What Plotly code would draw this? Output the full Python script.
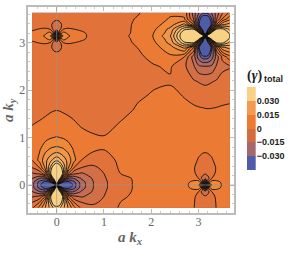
import plotly.graph_objects as go

kx = [-0.52,-0.36,-0.24,-0.14,-0.06,0,0.06,0.14,0.24,0.36,0.52,0.75,1.0,1.35,1.7,2.05,2.4,2.7,2.9,3.0,3.08,3.14,3.2,3.28,3.38,3.5,3.66]
ky = [-0.48,-0.36,-0.24,-0.14,-0.06,0,0.06,0.14,0.24,0.36,0.52,0.75,1.0,1.3,1.6,1.9,2.2,2.5,2.7,2.9,3.0,3.08,3.14,3.2,3.28,3.38,3.5,3.63]

gamma = [
[-.001,.007,.015,.021,.026,.027,.026,.021,.015,.007,-.001,-.0035,-.0025,.0005,.0012,.0012,.0012,.0012,.0001,-.001,-.002,-.0025,-.002,-.001,.0001,.0012,.0015],
[-.0052,0,.011,.025,.036,.04,.036,.025,.011,0,-.0052,-.0062,-.004,0,.0012,.0012,.0012,.0012,.0002,-.001,-.002,-.0025,-.002,-.001,.0002,.0012,.0015],
[-.0107,-.009,0,.0245,.052,.062,.052,.0245,0,-.009,-.0107,-.0083,-.005,-.0008,.001,.0012,.0012,.0015,.0005,-.001,-.003,-.0045,-.003,-.001,.0005,.0012,.0015],
[-.0146,-.02,-.02,0,.034,.06,.034,0,-.02,-.02,-.0146,-.0099,-.0055,-.0015,.0008,.0012,.0012,.0018,.002,0,-.007,-.009,-.007,0,.002,.002,.0015],
[-.0175,-.027,-.032,-.03,0,.05,0,-.03,-.032,-.027,-.0175,-.0105,-.0058,-.002,.0008,.0012,.0012,.0025,.007,.008,0,-.028,0,.008,.007,.004,.002],
[-.018,-.028,-.038,-.045,-.05,0,-.05,-.045,-.038,-.028,-.018,-.0105,-.0058,-.002,.0008,.0012,.0012,.003,.008,.01,.028,0,.028,.01,.008,.0045,.002],
[-.0175,-.027,-.032,-.03,0,.05,0,-.03,-.032,-.027,-.0175,-.0105,-.0058,-.002,.0008,.0012,.0012,.0025,.007,.008,0,-.028,0,.008,.007,.004,.002],
[-.0146,-.02,-.02,0,.034,.06,.034,0,-.02,-.02,-.0146,-.0099,-.0055,-.0015,.0008,.0012,.0012,.0018,.002,0,-.007,-.009,-.007,0,.002,.002,.0015],
[-.0107,-.009,0,.0245,.052,.062,.052,.0245,0,-.009,-.0107,-.0083,-.005,0,.001,.0012,.0012,.0015,.0005,-.001,-.003,-.0045,-.003,-.001,.0005,.0012,.0015],
[-.0052,0,.011,.025,.036,.04,.036,.025,.011,0,-.0052,-.0062,-.004,.0008,.0015,.0015,.0015,.0015,.0002,-.001,-.002,-.0025,-.002,-.001,.0002,.0012,.0015],
[0,.0066,.0134,.018,.022,.024,.022,.018,.0134,.0066,0,-.0028,-.0025,.0012,.0015,.0015,.0015,.0015,.0008,-.0003,-.001,-.0012,-.001,-.0003,.0008,.0012,.0015],
[.002,.0045,.0085,.0105,.0112,.0115,.0112,.0105,.0085,.0045,.002,.001,.0001,.0015,.0015,.0015,.0015,.001,.001,.0008,.0006,.0005,.0006,.0008,.001,.001,.0012],
[.0012,.0018,.0032,.0045,.005,.0052,.005,.0045,.0032,.0018,.0012,.0008,.0003,.0012,.0015,.0015,.0015,.0012,.0012,.0012,.0012,.0012,.0012,.0012,.0012,.0012,.0012],
[-.0002,.0003,.0009,.0016,.0018,.0018,.0018,.0016,.0012,.0004,-.0005,-.0018,-.002,.0003,.0012,.0012,.0012,.0012,.001,.001,.001,.001,.001,.001,.001,.001,.001],
[-.0015,-.0012,-.001,-.0006,-.0003,-.0002,-.0003,-.0006,-.001,-.0012,-.0015,-.002,-.0022,-.002,.0005,.001,.0012,.001,.0005,.0003,.0002,.0001,.00005,.0001,.0002,.0004,.0006],
[-.002,-.002,-.002,-.002,-.002,-.002,-.002,-.002,-.002,-.002,-.002,-.002,-.002,-.002,-.0008,.0004,.001,-.0003,-.0012,-.0016,-.0018,-.002,-.002,-.0018,-.0015,-.0012,-.001],
[-.002,-.002,-.002,-.002,-.002,-.002,-.002,-.002,-.002,-.002,-.002,-.002,-.002,-.002,-.0015,-.0008,-.0005,-.002,-.0048,-.0055,-.0062,-.0065,-.0062,-.0055,-.0048,-.003,-.0022],
[-.002,-.002,-.002,-.002,-.002,-.002,-.002,-.002,-.002,-.002,-.002,-.002,-.002,-.0018,-.0015,-.0003,.0006,-.004,-.0095,-.014,-.0148,-.015,-.0148,-.014,-.0095,-.0065,-.0055],
[-.002,-.002,-.0022,-.0025,-.003,-.0033,-.003,-.0025,-.0022,-.002,-.002,-.002,-.002,-.0015,-.0008,.001,.004,0,-.0128,-.0226,-.027,-.028,-.027,-.0226,-.0128,-.0041,.0035],
[-.002,-.0015,-.001,-.004,-.0062,-.0066,-.0062,-.004,-.001,-.0015,-.002,-.002,-.002,-.001,0,.003,.008,.0164,0,-.0245,-.052,-.062,-.052,-.0245,0,.014,.017],
[-.0005,.0002,.0003,0,-.007,-.0085,-.007,0,.0003,.0001,-.0008,-.002,-.002,-.0012,.0005,.004,.0115,.029,.031,0,-.03,-.06,-.03,0,.031,.032,.0237],
[.0008,.002,.004,.007,0,-.028,0,.007,.004,.002,.001,-.0015,-.002,-.0012,.0008,.005,.0125,.036,.05,.036,0,-.05,0,.036,.05,.046,.028],
[.001,.003,.006,.009,.028,0,.028,.009,.006,.003,.0015,-.0015,-.002,-.001,.001,.0052,.0145,.037,.06,.06,.05,0,.05,.06,.06,.05,.03],
[.0008,.002,.004,.007,0,-.028,0,.007,.004,.002,.001,-.0015,-.002,-.0012,.0008,.005,.0125,.036,.05,.036,0,-.05,0,.036,.05,.046,.028],
[-.0005,.0002,.0003,0,-.007,-.0085,-.007,0,.0003,.0001,-.0008,-.002,-.002,-.0012,.0007,.004,.0115,.029,.031,0,-.03,-.06,-.03,0,.031,.032,.0237],
[-.002,-.0015,-.001,-.004,-.0062,-.0066,-.0062,-.004,-.001,-.0015,-.002,-.002,-.002,-.001,.0005,.003,.0075,.0164,0,-.0245,-.052,-.062,-.052,-.0245,0,.014,.017],
[-.0022,-.002,-.002,-.0025,-.004,-.0045,-.004,-.0025,-.002,-.002,-.002,-.002,-.002,-.001,.0002,.002,.0055,.0053,-.011,-.025,-.036,-.037,-.036,-.025,-.011,0,.0084],
[-.002,-.002,-.002,-.002,-.002,-.002,-.002,-.002,-.002,-.002,-.002,-.002,-.002,-.001,-.0003,.0012,.004,.004,-.013,-.0197,-.0236,-.024,-.0236,-.0197,-.013,-.0058,.001],
]

band_colors = ["#4F5CA8","#7F6288","#A4686E","#BC6C5A","#CC6E4C","#DA7040","#E87634","#EE7F33","#F0903F","#F29C50","#F3AC62","#F5BE72","#F7D184"]
legend_colors = ["#4F5CA8","#A5686E","#D56C40","#EC7A30","#F29A50","#F7D184"]
legend_centers = [-0.0375,-0.0225,-0.0075,0.0075,0.0225,0.0375]
legend_ticks = [-0.03,-0.015,0,0.015,0.03]
legend_labels = ["<b>\u22120.030</b>","<b>\u22120.015</b>","<b>0</b>","<b>0.015</b>","<b>0.030</b>"]

W, H = 291, 253
n = len(band_colors) - 1
scale = [[i / n, c] for i, c in enumerate(band_colors)]

fig = go.Figure()
fig.add_trace(go.Contour(
    x=kx, y=ky, z=gamma, zmin=-0.03, zmax=0.03, zauto=False, colorscale=scale, showscale=False,
    autocontour=False,
    contours=dict(start=-0.03, end=0.03, size=0.005, coloring="fill"),
    line=dict(color="#111111", width=0.9, smoothing=0.9),
    hoverinfo="skip",
))
lscale = []
for i, c in enumerate(legend_colors):
    lscale += [[i / 6, c], [(i + 1) / 6, c]]
fig.add_trace(go.Heatmap(
    x=[0], y=legend_centers, z=[[v] for v in legend_centers], xaxis="x2", yaxis="y2",
    colorscale=lscale, zmin=-0.045, zmax=0.045, showscale=False, hoverinfo="skip",
))

axis_font = dict(family="Liberation Serif", size=12, color="#666666")
common = dict(showgrid=False, zeroline=False, showline=True, linecolor="#BBBBBB", linewidth=1.5,
              mirror="ticks", ticks="inside", ticklen=4, tickwidth=1, tickcolor="#BBBBBB",
              tickvals=[0, 1, 2, 3], tickfont=axis_font, layer="above traces",
              minor=dict(ticks="inside", ticklen=2, tickcolor="#CCCCCC", dtick=0.2, showgrid=False))
fig.update_layout(
    width=W, height=H, autosize=False, margin=dict(l=0, r=0, t=0, b=0),
    paper_bgcolor="white", plot_bgcolor="white", showlegend=False,
    xaxis=dict(range=[-0.6, 3.75], domain=[28.3 / W, 234 / W], ticklabelstandoff=-3, **common),
    yaxis=dict(range=[-0.59, 3.75], domain=[40 / H, 246 / H], ticklabelstandoff=-1, **common),
    xaxis2=dict(domain=[247 / W, 255.7 / W], anchor="y2", visible=False),
    yaxis2=dict(domain=[83 / H, 166 / H], anchor="x2", side="right", range=[-0.045, 0.045],
                tickvals=legend_ticks, ticktext=legend_labels, showgrid=False, zeroline=False,
                showline=False, ticks="", tickfont=dict(family="Liberation Sans", size=9, color="#222222")),
    shapes=[
        dict(type="line", x0=0, x1=0, y0=-0.59, y1=3.75, xref="x", yref="y", layer="above",
             line=dict(color="rgba(150,150,150,0.6)", width=1)),
        dict(type="line", x0=-0.6, x1=3.75, y0=0, y1=0, xref="x", yref="y", layer="above",
             line=dict(color="rgba(150,150,150,0.6)", width=1)),
    ],
    annotations=[
        dict(text="<b><i>a k</i></b><sub><b><i>x</i></b></sub>", x=130 / W, y=1 - 238 / H, xref="paper", yref="paper",
             xanchor="center", yanchor="middle", showarrow=False,
             font=dict(family="Liberation Serif", size=15, color="#666666")),
        dict(text="<b><i>a k</i></b><sub><b><i>y</i></b></sub>", x=9 / W, y=1 - 110 / H, xref="paper", yref="paper",
             xanchor="center", yanchor="middle", showarrow=False, textangle=-90,
             font=dict(family="Liberation Serif", size=15, color="#666666")),
        dict(text="<b>(<i>\u03b3</i>)</b>", x=255 / W, y=1 - 76 / H, xref="paper", yref="paper",
             xanchor="center", yanchor="middle", showarrow=False,
             font=dict(family="Liberation Serif", size=14, color="#222222")),
        dict(text="<b>total</b>", x=273 / W, y=1 - 79 / H, xref="paper", yref="paper",
             xanchor="center", yanchor="middle", showarrow=False,
             font=dict(family="Liberation Sans", size=9, color="#222222")),
    ],
)
fig.write_html("out.html", config=dict(displayModeBar=False),
               post_script="document.body.style.margin='0';document.documentElement.style.overflow='hidden';")
